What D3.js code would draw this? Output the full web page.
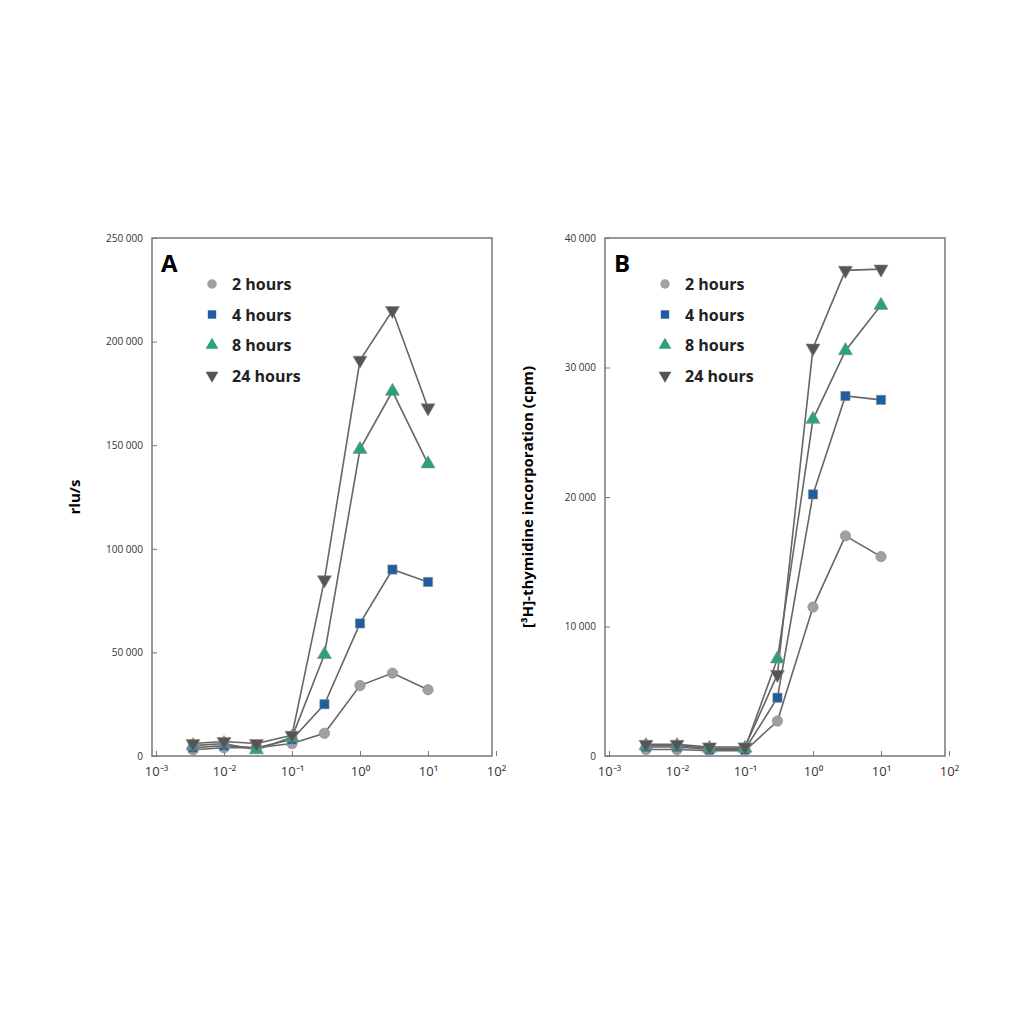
<!DOCTYPE html>
<html><head><meta charset="utf-8">
<script src="https://cdn.jsdelivr.net/npm/d3@7"></script>
<style>body{margin:0;background:#fff}text{font-family:"Open Sans",Arial,sans-serif}</style>
</head><body>
<script>
// Data
const conc = [0.0035, 0.01, 0.03, 0.1, 0.3, 1, 3, 10];
const seriesNames = ["2 hours", "4 hours", "8 hours", "24 hours"];
const rluA = [
  [3000, 4000, 4000, 6000, 11000, 34000, 40000, 32000],
  [4000, 5000, 4000, 8000, 25000, 64000, 90000, 84000],
  [5000, 6000, 3000, 9000, 49000, 148000, 176000, 141000],
  [6000, 7000, 6000, 10000, 85000, 191000, 215000, 168000]
];
const cpmB = [
  [500, 500, 400, 400, 2700, 11500, 17000, 15400],
  [700, 700, 500, 500, 4500, 20200, 27800, 27500],
  [800, 800, 600, 600, 7500, 26000, 31300, 34800],
  [900, 900, 700, 700, 6300, 31500, 37500, 37600]
];
const yTicksA = [0, 50000, 100000, 150000, 200000, 250000];
const yTicksB = [0, 10000, 20000, 30000, 40000];
const xTicks = [1e-3, 1e-2, 1e-1, 1, 10, 100];

const colors = ["#a0a0a0", "#1d5f9e", "#2aa37a", "#555555"];
const symbols = [d3.symbolCircle, d3.symbolSquare, d3.symbolTriangle, d3.symbolTriangle];

const svg = d3.select("body").append("svg").attr("width", 1024).attr("height", 1024);
const fmt = v => v === 0 ? "0" : d3.format(",")(v).replace(/,/g, " ");
const sup = {"-3": "\u207B\u00B3", "-2": "\u207B\u00B2", "-1": "\u207B\u00B9", "0": "\u2070", "1": "\u00B9", "2": "\u00B2"};

function panel(left, right, data, yMax, yTicks, letter, ylabel) {
  const top = 238, bottom = 756;
  const x = d3.scaleLog().domain([1e-3, 100]).range([left + 4, right + 4]);
  const y = d3.scaleLinear().domain([0, yMax]).range([bottom, top]);
  const g = svg.append("g");
  g.append("rect").attr("x", left).attr("y", top).attr("width", right - left).attr("height", bottom - top)
    .attr("fill", "none").attr("stroke", "#777").attr("stroke-width", 1.5);
  g.append("g").attr("transform", `translate(0,${bottom})`)
    .call(d3.axisBottom(x).tickValues(xTicks).tickSize(-5).tickFormat(d => "10" + sup[Math.round(Math.log10(d))]))
    .call(a => a.select(".domain").remove())
    .call(a => a.selectAll("line").attr("stroke", "#777"))
    .call(a => a.selectAll("text").attr("dy", "1.3em").attr("font-size", 13).attr("fill", "#333"));
  g.append("g").attr("transform", `translate(${left},0)`)
    .call(d3.axisLeft(y).tickValues(yTicks).tickSize(-5).tickFormat(fmt))
    .call(a => a.select(".domain").remove())
    .call(a => a.selectAll("line").attr("stroke", "#777"))
    .call(a => a.selectAll("text").attr("dx", "-0.6em").attr("font-size", 10).attr("fill", "#333"));
  g.append("text").attr("transform", `translate(${left - 72},${(top + bottom) / 2}) rotate(-90)`)
    .attr("text-anchor", "middle").attr("font-size", 15).attr("font-weight", "bold").text(ylabel);
  g.append("text").attr("x", left + 9).attr("y", top + 34).attr("font-size", 24).attr("font-weight", "bold").text(letter);

  const line = d3.line().x((d, i) => x(conc[i])).y(d => y(d));
  data.forEach((s, k) => {
    g.append("path").datum(s).attr("d", line).attr("fill", "none").attr("stroke", "#666").attr("stroke-width", 1.6);
  });
  data.forEach((s, k) => {
    g.selectAll(null).data(s).join("path")
      .attr("transform", (d, i) => `translate(${x(conc[i])},${y(d)})${k === 3 ? " rotate(180)" : ""}`)
      .attr("d", d3.symbol(symbols[k], 85)).attr("fill", colors[k]).attr("stroke", "#888").attr("stroke-width", 0.6);
  });
  seriesNames.forEach((n, k) => {
    const ly = 284 + k * 30.5;
    g.append("path").attr("transform", `translate(${left + 60},${ly})${k === 3 ? " rotate(180)" : ""}`)
      .attr("d", d3.symbol(symbols[k], 70)).attr("fill", colors[k]);
    g.append("text").attr("x", left + 80).attr("y", ly + 6).attr("font-size", 16).attr("font-weight", "bold").attr("fill", "#222").text(n);
  });
}

panel(152, 492, rluA, 250000, yTicksA, "A", "rlu/s");
panel(605, 945, cpmB, 40000, yTicksB, "B", "[\u00B3H]-thymidine incorporation (cpm)");
</script>
</body></html>
